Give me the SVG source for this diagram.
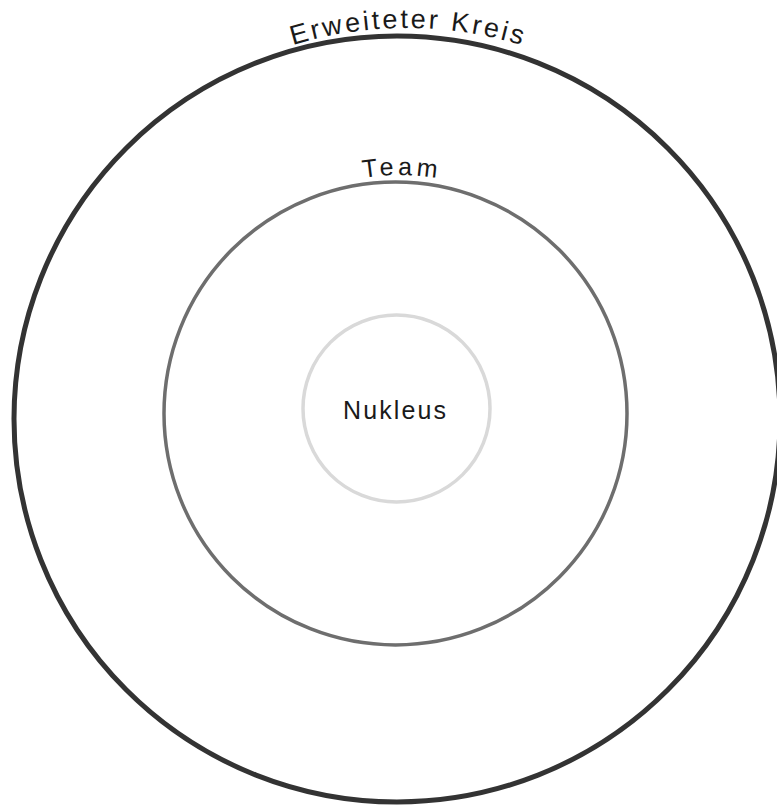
<svg xmlns="http://www.w3.org/2000/svg" width="777" height="807" viewBox="0 0 777 807">
  <style>
    .ring { fill: none; }
    .lbl { font-family: "Liberation Sans", "DejaVu Sans", sans-serif; fill: #1a1a1a; }
  </style>
  <defs>
    <path id="arcOuter" d="M 16 419 A 391 391 0 0 1 798 419"/>
    <path id="arcTeam" d="M 161 414 A 239 239 0 0 1 639 414"/>
  </defs>
  <rect width="777" height="807" fill="#ffffff"/>
  <g id="erweiteter-kreis">
    <circle class="ring" cx="397" cy="419" r="383" stroke="#333333" stroke-width="5"/>
    <text class="lbl" font-family="'Open Sans', sans-serif" font-size="27" text-anchor="middle">
      <textPath href="#arcOuter" startOffset="50%" textLength="232" lengthAdjust="spacing">Erweiteter Kreis</textPath>
    </text>
  </g>
  <g id="team">
    <circle class="ring" cx="395.5" cy="413.5" r="231.5" stroke="#6e6e6e" stroke-width="3.5"/>
    <text class="lbl" font-size="25" text-anchor="middle">
      <textPath href="#arcTeam" startOffset="50%" textLength="74" lengthAdjust="spacing">Team</textPath>
    </text>
  </g>
  <g id="nukleus">
    <circle class="ring" cx="396.5" cy="408.5" r="93.5" stroke="#d9d9d9" stroke-width="3.5"/>
    <text class="lbl" x="394.5" y="419" font-size="25" text-anchor="middle" textLength="103" lengthAdjust="spacing">Nukleus</text>
  </g>
</svg>
